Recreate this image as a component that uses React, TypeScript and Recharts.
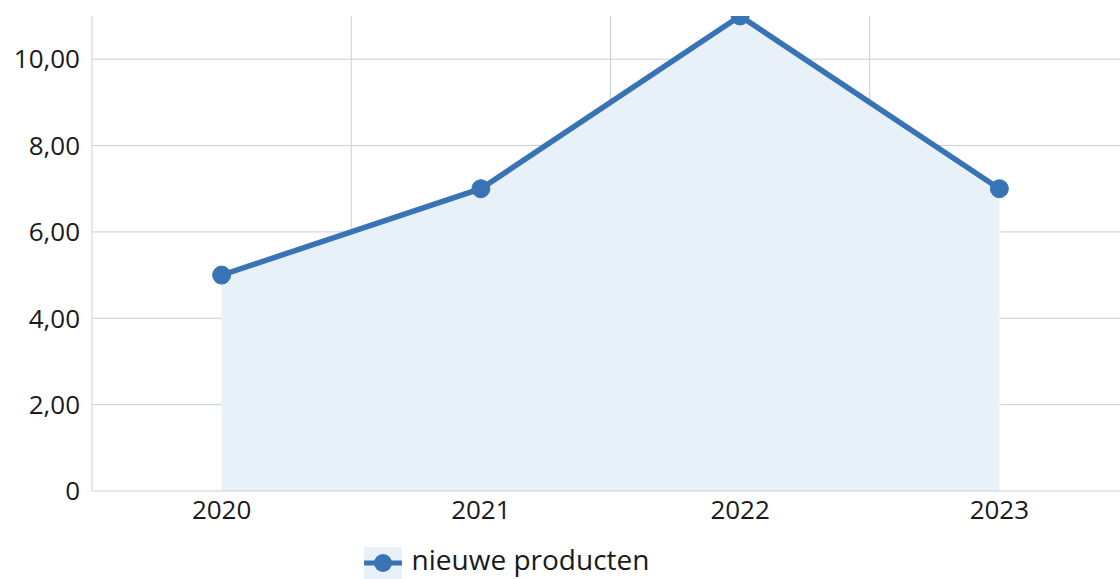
import { Area, AreaChart, CartesianGrid, Legend, XAxis, YAxis } from "recharts";

const years = ["2020", "2021", "2022", "2023"];
const nieuweProducten = [5, 7, 11, 7];
const yTicks = [0, 2, 4, 6, 8, 10];
const yMax = 11;

const data = years.map((year, i) => ({ year, value: nieuweProducten[i] }));

const LINE = "#3874b4";
const FILL = "#e8f0f8";
const GRID = "#c9cfda";
const TEXT = "#1a1a1a";
const FONT = "'Open Sans', 'Noto Sans', sans-serif";

const fmt = (n: number) => (n === 0 ? "0" : n.toFixed(2).replace(".", ","));

function LegendContent() {
  return (
    <div
      style={{
        height: 42,
        display: "flex",
        justifyContent: "center",
        alignItems: "flex-end",
        fontFamily: FONT,
        fontSize: 28,
        color: TEXT,
      }}
    >
      <svg width={38} height={32} style={{ marginRight: 10, marginLeft: -116, display: "block" }}>
        <rect x={0} y={0} width={38} height={32} fill={FILL} />
        <line x1={0} x2={38} y1={16} y2={16} stroke={LINE} strokeWidth={5} />
        <circle cx={19} cy={16} r={9} fill={LINE} />
      </svg>
      <span style={{ lineHeight: "34px", marginBottom: 3 }}>nieuwe producten</span>
    </div>
  );
}

export default function App() {
  return (
    <div style={{ position: "fixed", left: 0, top: 0, width: 1120, height: 579, overflow: "hidden", background: "#fff" }}>
      <AreaChart width={1130} height={579} data={data} margin={{ top: 16, right: 1, left: 0, bottom: 0 }}>
        <CartesianGrid
          stroke={GRID}
          strokeWidth={1}
          horizontalCoordinatesGenerator={({ offset }: any) =>
            yTicks.slice(1).map((t) => offset.top + offset.height * (1 - t / yMax))
          }
          verticalCoordinatesGenerator={({ offset }: any) =>
            [1, 2, 3].map((i) => offset.left + (offset.width * i) / years.length)
          }
        />
        <XAxis
          dataKey="year"
          scale="band"
          tickLine={false}
          axisLine={{ stroke: GRID }}
          height={46}
          tickMargin={4}
          tick={{ fill: TEXT, fontSize: 26, fontFamily: FONT }}
        />
        <YAxis
          domain={[0, yMax]}
          allowDataOverflow
          ticks={yTicks}
          tickFormatter={fmt}
          width={92}
          tickLine={false}
          axisLine={{ stroke: GRID }}
          tickMargin={6}
          tick={{ fill: TEXT, fontSize: 26, fontFamily: FONT }}
        />
        <Legend verticalAlign="bottom" height={42} content={<LegendContent />} />
        <Area
          type="linear"
          dataKey="value"
          name="nieuwe producten"
          stroke={LINE}
          strokeWidth={5.5}
          fill={FILL}
          fillOpacity={1}
          dot={{ r: 9, fill: LINE, stroke: LINE, strokeWidth: 1 }}
          activeDot={false}
          isAnimationActive={false}
        />
      </AreaChart>
    </div>
  );
}
